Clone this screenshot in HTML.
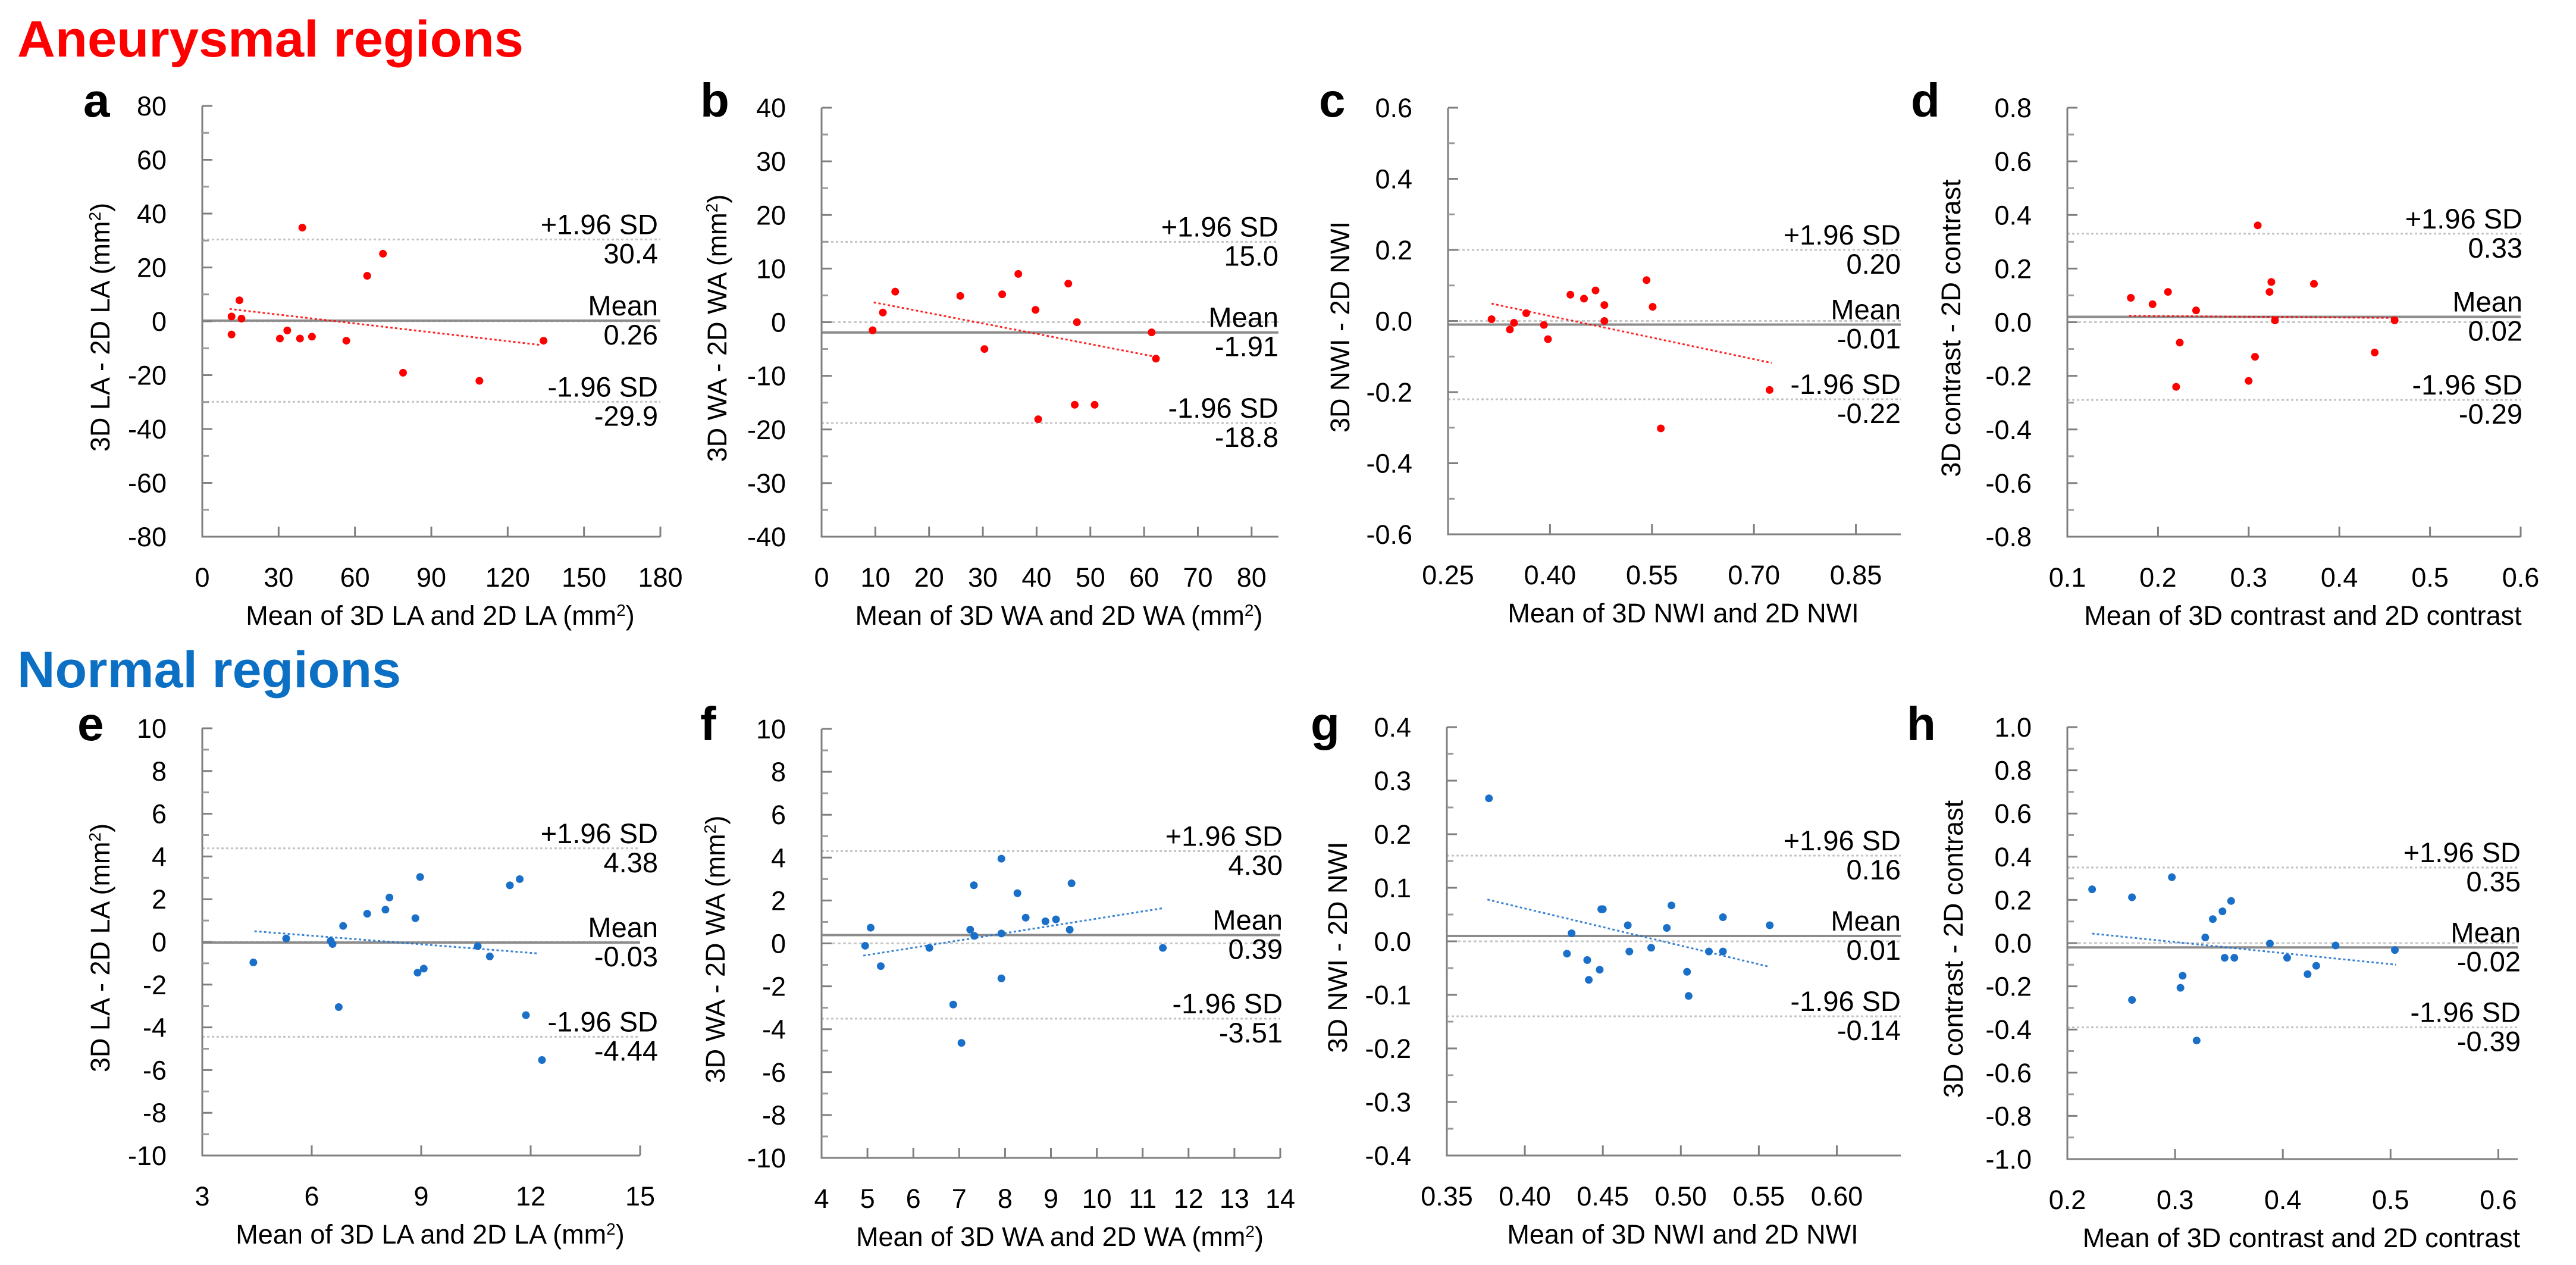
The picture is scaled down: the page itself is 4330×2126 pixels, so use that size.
<!DOCTYPE html>
<html>
<head>
<meta charset="utf-8">
<style>
html,body{margin:0;padding:0;background:#fff;}
svg{display:block;font-family:"Liberation Sans",Arial,sans-serif;}
</style>
</head>
<body>
<svg id="fig" width="4330" height="2126" viewBox="0 0 4330 2126" xmlns="http://www.w3.org/2000/svg">
<rect x="0" y="0" width="4330" height="2126" fill="#fff"/>
<text x="29" y="95" font-size="86" font-weight="bold" fill="#ff0000" textLength="851" lengthAdjust="spacingAndGlyphs">Aneurysmal regions</text>
<text x="29" y="1155" font-size="86" font-weight="bold" fill="#0b6fc4" textLength="645" lengthAdjust="spacingAndGlyphs">Normal regions</text>
</svg>
<script>
// ---------- DATA ----------
const aX=[11.5,11.5,14.6,15.4,30.5,33.4,38.4,39.3,43.1,56.6,64.8,71.0,78.9,108.9,134.1];
const aY=[1.8,-4.9,7.8,1.0,-6.4,-3.4,-6.4,34.8,-5.7,-7.2,16.9,25.1,-19.1,-22.1,-7.2];
const aTrend=[[10.7,4.6],[133,-8.8]];
const aLimits=[30.4,0.26,-29.9];
const aLimitText=["30.4","0.26","-29.9"];
const aXTicks=[0,30,60,90,120,150,180];
const aYTicks=[-80,-60,-40,-20,0,20,40,60,80];

const bX=[9.5,11.4,13.7,25.8,30.3,33.6,36.6,39.8,40.3,45.9,47.1,47.5,50.8,61.4,62.2];
const bY=[-1.5,1.8,5.7,4.9,-5.0,5.2,9.0,2.3,-18.1,7.2,-15.4,0.0,-15.4,-1.9,-6.8];
const bTrend=[[9.7,3.7],[61.9,-6.4]];
const bLimits=[15.0,-1.91,-18.8];
const bLimitText=["15.0","-1.91","-18.8"];
const bXTicks=[0,10,20,30,40,50,60,70,80];
const bYTicks=[-40,-30,-20,-10,0,10,20,30,40];

const cX=[0.314,0.341,0.347,0.365,0.391,0.397,0.430,0.450,0.467,0.480,0.480,0.542,0.551,0.563,0.723];
const cY=[0.005,-0.024,-0.005,0.022,-0.011,-0.051,0.074,0.063,0.086,0.045,0.000,0.115,0.040,-0.302,-0.194];
const cTrend=[[0.314,0.049],[0.726,-0.118]];
const cLimits=[0.20,-0.01,-0.22];
const cLimitText=["0.20","-0.01","-0.22"];
const cXTicks=[0.25,0.40,0.55,0.70,0.85];
const cYTicks=[-0.6,-0.4,-0.2,0.0,0.2,0.4,0.6];

const dX=[0.170,0.194,0.211,0.224,0.220,0.242,0.300,0.307,0.310,0.323,0.325,0.329,0.372,0.439,0.461];
const dY=[0.091,0.067,0.113,-0.076,-0.241,0.044,-0.219,-0.129,0.361,0.113,0.150,0.007,0.143,-0.113,0.007];
const dTrend=[[0.168,0.024],[0.459,0.016]];
const dLimits=[0.33,0.02,-0.29];
const dLimitText=["0.33","0.02","-0.29"];
const dXTicks=[0.1,0.2,0.3,0.4,0.5,0.6];
const dYTicks=[-0.8,-0.6,-0.4,-0.2,0.0,0.2,0.4,0.6,0.8];

const eX=[4.40,5.30,6.52,6.57,6.74,6.86,7.52,8.02,8.13,8.84,8.90,8.97,9.07,10.55,10.88,11.43,11.70,11.87,12.31];
const eY=[-0.96,0.16,0.05,-0.10,-3.05,0.75,1.32,1.51,2.08,1.11,-1.44,3.04,-1.25,-0.20,-0.68,2.65,2.94,-3.43,-5.53];
const eTrend=[[4.43,0.50],[12.2,-0.54]];
const eLimits=[4.38,-0.03,-4.44];
const eLimitText=["4.38","-0.03","-4.44"];
const eXTicks=[3,6,9,12,15];
const eYTicks=[-10,-8,-6,-4,-2,0,2,4,6,8,10];

const fX=[4.95,5.07,5.29,6.35,6.87,7.05,7.24,7.32,7.33,7.92,7.92,7.92,8.27,8.45,8.88,9.11,9.41,9.45,11.44];
const fY=[-0.11,0.73,-1.06,-0.21,-2.85,-4.64,0.64,2.71,0.35,3.95,0.46,-1.63,2.34,1.20,1.03,1.12,0.64,2.80,-0.21];
const fTrend=[[4.91,-0.57],[11.47,1.65]];
const fLimits=[4.30,0.39,-3.51];
const fLimitText=["4.30","0.39","-3.51"];
const fXTicks=[4,5,6,7,8,9,10,11,12,13,14];
const fYTicks=[-10,-8,-6,-4,-2,0,2,4,6,8,10];

const gX=[0.377,0.427,0.430,0.440,0.441,0.448,0.449,0.450,0.466,0.467,0.481,0.491,0.494,0.504,0.505,0.518,0.527,0.527,0.557];
const gY=[0.267,-0.023,0.015,-0.035,-0.072,-0.053,0.060,0.060,0.030,-0.019,-0.012,0.025,0.067,-0.057,-0.102,-0.019,0.045,-0.019,0.030];
const gTrend=[[0.376,0.078],[0.556,-0.047]];
const gLimits=[0.16,0.01,-0.14];
const gLimitText=["0.16","0.01","-0.14"];
const gXTicks=[0.35,0.40,0.45,0.50,0.55,0.60];
const gYTicks=[-0.4,-0.3,-0.2,-0.1,0.0,0.1,0.2,0.3,0.4];

const hX=[0.223,0.260,0.260,0.297,0.305,0.307,0.320,0.328,0.335,0.344,0.346,0.352,0.355,0.388,0.404,0.423,0.431,0.449,0.504];
const hY=[0.249,-0.263,0.212,0.305,-0.207,-0.151,-0.451,0.026,0.111,0.147,-0.068,0.195,-0.068,-0.002,-0.068,-0.144,-0.105,-0.011,-0.032];
const hTrend=[[0.223,0.044],[0.505,-0.100]];
const hLimits=[0.35,-0.02,-0.39];
const hLimitText=["0.35","-0.02","-0.39"];
const hXTicks=[0.2,0.3,0.4,0.5,0.6];
const hYTicks=[-1.0,-0.8,-0.6,-0.4,-0.2,0.0,0.2,0.4,0.6,0.8,1.0];

// ---------- LAYOUT ----------
const NS="http://www.w3.org/2000/svg";
const svg=document.getElementById('fig');
const RED="#ff0000", BLUE="#1a6fc9";
const panels=[
 {id:'a',X:aX,Y:aY,T:aTrend,L:aLimits,LT:aLimitText,xt:aXTicks,yt:aYTicks,xd:[0,180],L0:340,R0:1110,T0:178,B0:902,xdec:0,ydec:0,col:RED,lab:1106,letter:[140,196],ytx:168,
  ytitle:["3D LA - 2D LA (mm","2",")"],xtitle:["Mean of 3D LA and 2D LA (mm","2",")"]},
 {id:'b',X:bX,Y:bY,T:bTrend,L:bLimits,LT:bLimitText,xt:bXTicks,yt:bYTicks,xd:[0,85],L0:1381,R0:2149,T0:181,B0:902,xdec:0,ydec:0,col:RED,lab:2149,letter:[1177,196],ytx:1205,
  ytitle:["3D WA - 2D WA (mm","2",")"],xtitle:["Mean of 3D WA and 2D WA (mm","2",")"]},
 {id:'c',X:cX,Y:cY,T:cTrend,L:cLimits,LT:cLimitText,xt:cXTicks,yt:cYTicks,xd:[0.25,0.916],L0:2434,R0:3195,T0:181,B0:898,xdec:2,ydec:1,col:RED,lab:3195,letter:[2217,196],ytx:2252,
  ytitle:["3D NWI - 2D NWI"],xtitle:["Mean of 3D NWI and 2D NWI"]},
 {id:'d',X:dX,Y:dY,T:dTrend,L:dLimits,LT:dLimitText,xt:dXTicks,yt:dYTicks,xd:[0.1,0.6],L0:3475,R0:4237,T0:181,B0:902,xdec:1,ydec:1,col:RED,lab:4240,letter:[3212,196],ytx:3279,
  ytitle:["3D contrast - 2D contrast"],xtitle:["Mean of 3D contrast and 2D contrast"]},
 {id:'e',X:eX,Y:eY,T:eTrend,L:eLimits,LT:eLimitText,xt:eXTicks,yt:eYTicks,xd:[3,15],L0:340,R0:1076,T0:1224,B0:1942,xdec:0,ydec:0,col:BLUE,lab:1106,letter:[130,1244],ytx:168,
  ytitle:["3D LA - 2D LA (mm","2",")"],xtitle:["Mean of 3D LA and 2D LA (mm","2",")"]},
 {id:'f',X:fX,Y:fY,T:fTrend,L:fLimits,LT:fLimitText,xt:fXTicks,yt:fYTicks,xd:[4,14],L0:1381,R0:2152,T0:1225,B0:1946,xdec:0,ydec:0,col:BLUE,lab:2156,letter:[1177,1244],ytx:1202,
  ytitle:["3D WA - 2D WA (mm","2",")"],xtitle:["Mean of 3D WA and 2D WA (mm","2",")"]},
 {id:'g',X:gX,Y:gY,T:gTrend,L:gLimits,LT:gLimitText,xt:gXTicks,yt:gYTicks,xd:[0.35,0.641],L0:2432,R0:3195,T0:1222,B0:1942,xdec:2,ydec:1,col:BLUE,lab:3195,letter:[2203,1244],ytx:2248,
  ytitle:["3D NWI - 2D NWI"],xtitle:["Mean of 3D NWI and 2D NWI"]},
 {id:'h',X:hX,Y:hY,T:hTrend,L:hLimits,LT:hLimitText,xt:hXTicks,yt:hYTicks,xd:[0.2,0.618],L0:3475,R0:4232,T0:1222,B0:1948,xdec:1,ydec:1,col:BLUE,lab:4237,letter:[3205,1244],ytx:3283,
  ytitle:["3D contrast - 2D contrast"],xtitle:["Mean of 3D contrast and 2D contrast"]}
];

function mk(tag,attrs,parent){
  const el=document.createElementNS(NS,tag);
  for(const k in attrs) el.setAttribute(k,attrs[k]);
  (parent||svg).appendChild(el);
  return el;
}
function addTitle(el,parts){
  if(parts.length===1){el.textContent=parts[0];return;}
  const t1=mk('tspan',{},el); t1.textContent=parts[0];
  const t2=mk('tspan',{'baseline-shift':'super','font-size':'28'},el); t2.textContent=parts[1];
  const t3=mk('tspan',{},el); t3.textContent=parts[2];
}

panels.forEach(p=>{
  const g=mk('g',{});
  
  
  const ymin=p.yt[0], ymax=p.yt[p.yt.length-1];
  const sx=v=>p.L0+(v-p.xd[0])/(p.xd[1]-p.xd[0])*(p.R0-p.L0);
  const sy=v=>p.B0-(v-ymin)/(ymax-ymin)*(p.B0-p.T0);

  const lt=mk('text',{x:p.letter[0],y:p.letter[1],'font-size':80,'font-weight':'bold',fill:'#000'},g);
  
  
  lt.textContent=p.id;

  const z=mk('line',{x1:p.L0,x2:p.R0,y1:sy(0),y2:sy(0),stroke:'#c8c8c8','stroke-width':3,'stroke-dasharray':'5 4'},g);
  
  

  const names=['upper-loa-line','mean-line','lower-loa-line'];
  const heads=['+1.96 SD','Mean','-1.96 SD'];
  p.L.forEach((v,i)=>{
    const ln=mk('line',{x1:p.L0,x2:p.R0,y1:sy(v),y2:sy(v),stroke:i===1?'#8c8c8c':'#c4c4c4','stroke-width':i===1?4:3,'stroke-dasharray':i===1?'none':'4 4'},g);
    
    
    const t1=mk('text',{x:p.lab,y:sy(v)-9,'font-size':47,'text-anchor':'end',fill:'#000'},g);
    
    
    t1.textContent=heads[i];
    const t2=mk('text',{x:p.lab,y:sy(v)+40,'font-size':47,'text-anchor':'end',fill:'#000'},g);
    
    
    t2.textContent=p.LT[i];
  });

  const ax=mk('path',{d:`M${p.L0},${p.T0} V${p.B0} H${p.R0}`,fill:'none',stroke:'#7f7f7f','stroke-width':3},g);
  
  

  const ystep=p.yt[1]-p.yt[0];
  p.yt.forEach((v,i)=>{
    const y=sy(v);
    const tk=mk('line',{x1:p.L0,x2:p.L0+17,y1:y,y2:y,stroke:'#7f7f7f','stroke-width':3},g);
    
    
    if(i<p.yt.length-1){
      const ym=sy(v+ystep/2);
      const mt=mk('line',{x1:p.L0,x2:p.L0+11,y1:ym,y2:ym,stroke:'#9a9a9a','stroke-width':3},g);
      
      
    }
    const tl=mk('text',{x:p.L0-60,y:y+16,'font-size':45,'text-anchor':'end',fill:'#000'},g);
    
    
    tl.textContent=v.toFixed(p.ydec);
  });
  p.xt.forEach(v=>{
    const x=sx(v);
    const tk=mk('line',{x1:x,x2:x,y1:p.B0,y2:p.B0-17,stroke:'#7f7f7f','stroke-width':3},g);
    
    
    const tl=mk('text',{x:x,y:p.B0+84,'font-size':45,'text-anchor':'middle',fill:'#000'},g);
    
    
    tl.textContent=v.toFixed(p.xdec);
  });

  const xt=mk('text',{x:(p.L0+p.R0)/2+15,y:p.B0+148,'font-size':45,'text-anchor':'middle',fill:'#000'},g);
  
  
  addTitle(xt,p.xtitle);
  const cy=(p.T0+p.B0)/2+10;
  const yt=mk('text',{x:p.ytx,y:cy,'font-size':45,'text-anchor':'middle',fill:'#000',transform:`rotate(-90 ${p.ytx} ${cy}) translate(0 16)`},g);
  
  
  addTitle(yt,p.ytitle);

  const tr=mk('line',{x1:sx(p.T[0][0]),y1:sy(p.T[0][1]),x2:sx(p.T[1][0]),y2:sy(p.T[1][1]),stroke:p.col,'stroke-width':3,'stroke-dasharray':'4 4',opacity:0.85},g);
  
  

  p.X.forEach((xv,i)=>{
    const c=mk('circle',{cx:sx(xv),cy:sy(p.Y[i]),r:6.5,fill:p.col},g);
    
    
  });
});
</script>
</body>
</html>
